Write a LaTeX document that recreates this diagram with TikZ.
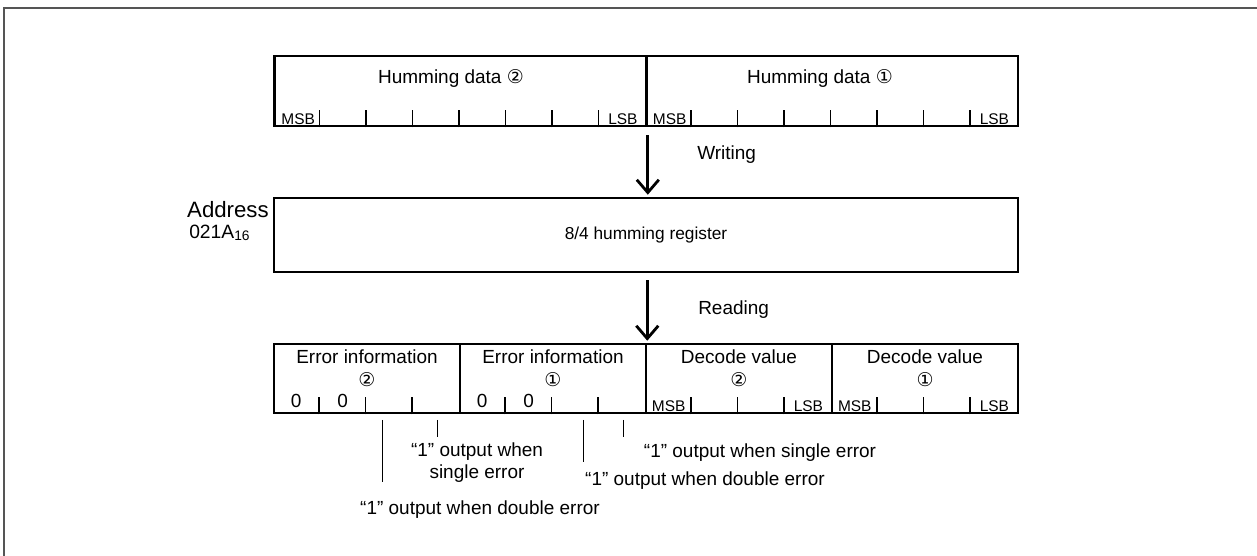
\documentclass[tikz,border=0pt]{standalone}
\usepackage{fontspec}
\setmainfont{Liberation Sans}
\newfontfamily\circfont{DejaVu Sans}
\usepackage{tikz}
\usetikzlibrary{arrows.meta, positioning, calc}
\definecolor{framegray}{HTML}{555555}
\newcommand{\cnum}[1]{{\circfont\fontsize{13.5}{15}\selectfont #1}}

\begin{document}
\begin{tikzpicture}[x=0.025cm, y=-0.025cm,
  regbox/.style={rectangle, draw, line width=1.8pt, inner sep=0pt},
  tick/.style={line width=1.1pt},
  lead/.style={line width=0.7pt},
  title/.style={inner sep=0pt, font=\fontsize{13.5}{15.6}\selectfont},
  small/.style={inner sep=0pt, font=\fontsize{11}{12}\selectfont},
  arr/.style={-{Straight Barb[length=0.32cm, width=0.55cm]}, line width=2pt}]
  \useasboundingbox (0,0) rectangle (1257,556);
  \draw[framegray, line width=1.4pt] (4,556) -- (4,8) -- (1257,8);

  % data written to the register
  \node[regbox, minimum width=9.3cm, minimum height=1.75cm] (hd2) at (460.5,91) {};
  \node[regbox, minimum width=9.3cm, minimum height=1.75cm] (hd1) at (832,91) {};
  \node[title] (hd2t) at (451,78) {Humming data \cnum{②}};
  \node[title] (hd1t) at (820,78) {Humming data \cnum{①}};
  \foreach \f in {hd2,hd1} {
    \node[small, anchor=west] at ($(\f.south west)+(8,-8.5)$) {MSB};
    \node[small, anchor=east] at ($(\f.south east)+(-10,-8.5)$) {LSB};
    \foreach \k in {1,...,7}
      \draw[tick] ($(\f.south west)+(46.5*\k,0)$) -- ++(0,-17);
  }

  % the register
  \node[regbox, minimum width=18.6cm, minimum height=1.85cm,
        font=\fontsize{12.3}{14}\selectfont] (reg) at (646,235) {8/4 humming register};
  \node[inner sep=0pt, anchor=east, font=\fontsize{15.8}{17}\selectfont] (addr) at (269,210) {Address};
  \node[inner sep=0pt, anchor=west, font=\fontsize{13.7}{16}\selectfont] (addrnum) at (189,233)
       {021A\raisebox{-1.5pt}{\fontsize{9.8}{11}\selectfont 16}};
  \draw[arr, shorten <=0.2cm, shorten >=0.05cm] (hd2.south east) -- (hd2.south east |- reg.north);
  \node[title, anchor=west] (wr) at (697,155) {Writing};

  % data read from the register
  \node[regbox, minimum width=4.65cm, minimum height=1.725cm] (err2) at (367,378.5) {};
  \node[regbox, minimum width=4.65cm, minimum height=1.725cm] (err1) at (553,378.5) {};
  \node[regbox, minimum width=4.65cm, minimum height=1.725cm] (dec2) at (739,378.5) {};
  \node[regbox, minimum width=4.65cm, minimum height=1.725cm] (dec1) at (925,378.5) {};
  \draw[arr, shorten <=0.18cm, shorten >=0.05cm] (reg.south -| err1.north east) -- (err1.north east);
  \node[title, anchor=west] (rd) at (698,310) {Reading};

  \node[title] at (367,357) {Error information};
  \node[title] at (553,357) {Error information};
  \node[title] at (739,357) {Decode value};
  \node[title] at (925,357) {Decode value};
  \node[inner sep=0pt] at (367,380) {\cnum{②}};
  \node[inner sep=0pt] at (553,380) {\cnum{①}};
  \node[inner sep=0pt] at (739,380) {\cnum{②}};
  \node[inner sep=0pt] at (925,380) {\cnum{①}};
  \foreach \f in {err2,err1} {
    \node[title] at ($(\f.south west)+(23.5,-13)$) {0};
    \node[title] at ($(\f.south west)+(70,-13)$) {0};
  }
  \foreach \f in {dec2,dec1} {
    \node[small, anchor=west] at ($(\f.south west)+(7,-8.5)$) {MSB};
    \node[small, anchor=east] at ($(\f.south east)+(-10,-8.5)$) {LSB};
  }
  \foreach \f in {err2,err1,dec2,dec1}
    \foreach \k in {1,2,3}
      \draw[tick] ($(\f.south west)+(46.5*\k,0)$) -- ++(0,-17);

  % error flags
  \coordinate (dbl2) at (382,420);
  \coordinate (sgl2) at (437,420);
  \coordinate (dbl1) at (583,420);
  \coordinate (sgl1) at (623,420);
  \draw[lead] (dbl2) -- ++(0,62);
  \draw[lead] (sgl2) -- ++(0,17);
  \draw[lead] (dbl1) -- ++(0,42);
  \draw[lead] (sgl1) -- ++(0,17);
  \node[title, align=center] (sgl2t) at (477,463) {“1” output when\\single error};
  \node[title] (sgl1t) at (760,453) {“1” output when single error};
  \node[title] (dbl1t) at (705,481) {“1” output when double error};
  \node[title] (dbl2t) at (480,510) {“1” output when double error};
\end{tikzpicture}
\end{document}
